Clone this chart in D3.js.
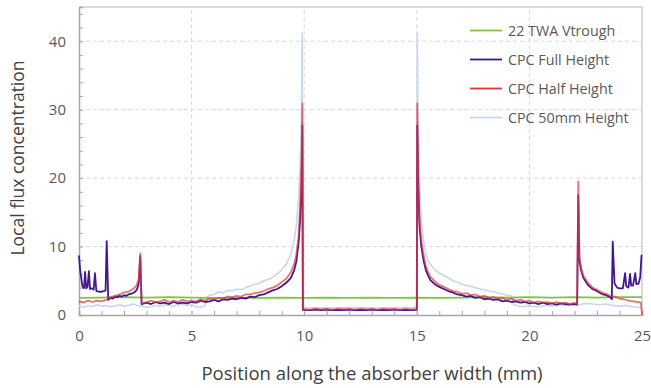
<!DOCTYPE html>
<html>
<head>
<meta charset="utf-8">
<script src="https://cdn.jsdelivr.net/npm/d3@7"></script>
<style>
  body { margin: 0; background: #fff; }
  svg { display: block; font-family: "Open Sans", sans-serif; }
</style>
</head>
<body>
<div id="chart"></div>
<script>
// [position (mm), local flux concentration]
const vtrough = [[0,2.5],[1,2.55],[2,2.6],[3,2.55],[4,2.6],[5,2.55],[6,2.5],[7,2.55],[8,2.5],[9,2.55],[10,2.5],[11,2.55],[12,2.5],[13,2.55],[14,2.5],[15,2.55],[16,2.5],[17,2.55],[18,2.6],[19,2.55],[20,2.6],[21,2.55],[22,2.6],[23,2.55],[24,2.6],[25,2.6]]

const fullHeight = [[0,8.7],[0.05,6.6],[0.15,4.2],[0.22,3.9],[0.27,6.3],[0.32,3.9],[0.38,4.1],[0.44,6.4],[0.49,3.8],[0.58,3.9],[0.65,3.7],[0.71,6.1],[0.77,3.5],[0.9,3.4],[1.0,3.4],[1.1,3.5],[1.18,3.6],[1.23,10.8],[1.3,2.2],[1.4,2.5],[1.5,2.4],[1.6,2.7],[1.7,2.6],[1.8,2.8],[1.9,2.7],[2.0,2.9],[2.1,2.8],[2.2,3.0],[2.3,3.1],[2.4,3.2],[2.5,3.4],[2.58,3.8],[2.65,4.6],[2.72,8.6],[2.78,1.6],
  [3.0,1.8],[3.2,1.6],[3.4,1.9],[3.6,1.7],[3.8,1.8],[4.0,1.6],[4.2,1.9],[4.4,1.7],[4.6,1.8],[4.8,1.7],[5.0,1.9],[5.2,1.8],[5.4,2.1],[5.6,1.9],[5.8,2.0],[6.0,2.2],[6.2,2.0],[6.4,2.3],[6.6,2.2],[6.8,2.4],[7.0,2.3],[7.2,2.5],[7.4,2.4],[7.6,2.7],[7.8,2.6],[8.0,2.9],[8.2,3.0],[8.4,3.3],[8.6,3.6],[8.8,3.8],[9.0,4.2],[9.2,4.7],[9.4,5.4],[9.55,6.5],[9.65,7.8],[9.75,10.5],[9.82,14],[9.88,19],[9.92,27.7],
  [9.94,0.75],[10.25,0.7],[10.5,0.78],[10.75,0.72],[11,0.8],[11.25,0.7],[11.5,0.76],[11.75,0.72],[12,0.78],[12.25,0.7],[12.5,0.75],[12.75,0.72],[13,0.8],[13.25,0.7],[13.5,0.76],[13.75,0.72],[14,0.78],[14.25,0.7],[14.5,0.75],[14.75,0.72],[15.0,0.76],
  [15.02,27.7],[15.06,19],[15.12,13],[15.2,10],[15.3,8],[15.4,6.6],[15.5,5.8],[15.6,5.1],[15.8,4.5],[16.0,4.1],[16.2,3.8],[16.4,3.5],[16.6,3.3],[16.8,3.0],[17.0,2.9],[17.2,2.7],[17.4,2.8],[17.6,2.5],[17.8,2.6],[18.0,2.3],[18.2,2.4],[18.4,2.2],[18.6,2.3],[18.8,2.0],[19.0,2.1],[19.2,1.9],[19.4,2.0],[19.6,1.8],[19.8,1.9],[20.0,1.7],[20.2,1.8],[20.4,1.6],[20.6,1.8],[20.8,1.6],[21.0,1.7],[21.2,1.5],[21.4,1.7],[21.6,1.6],[21.8,1.5],[22.0,1.6],[22.12,1.5],
  [22.17,17.5],[22.22,8],[22.3,6.5],[22.4,5.4],[22.6,4.4],[22.8,3.8],[23.0,3.5],[23.2,3.1],[23.4,2.9],[23.6,2.6],[23.66,2.3],[23.7,10.7],[23.78,4.6],[23.9,4.0],[24.0,3.9],[24.15,3.9],[24.25,6.1],[24.3,4.2],[24.4,4.0],[24.47,6.0],[24.52,4.3],[24.6,4.3],[24.7,6.1],[24.75,4.5],[24.85,4.6],[24.92,5.5],[24.98,8.8]]

const halfHeight = [[0,2.0],[0.2,1.8],[0.4,2.1],[0.6,1.9],[0.8,2.1],[1.0,2.0],[1.2,2.2],[1.4,2.6],[1.6,2.8],[1.8,3.0],[2.0,3.3],[2.2,3.4],[2.4,3.8],[2.55,4.3],[2.65,5.2],[2.72,9.0],[2.78,1.7],
  [3.0,1.9],[3.2,2.1],[3.4,1.8],[3.6,2.0],[3.8,2.2],[4.0,1.9],[4.2,2.1],[4.4,1.9],[4.6,2.2],[4.8,2.0],[5.0,2.1],[5.2,2.0],[5.4,2.3],[5.6,2.1],[5.8,2.4],[6.0,2.3],[6.2,2.5],[6.4,2.4],[6.6,2.7],[6.8,2.6],[7.0,2.8],[7.2,2.7],[7.4,3.0],[7.6,3.0],[7.8,3.2],[8.0,3.3],[8.2,3.5],[8.4,3.8],[8.6,4.0],[8.8,4.3],[9.0,4.8],[9.2,5.3],[9.4,6.2],[9.55,7.4],[9.65,8.8],[9.75,11.5],[9.82,16],[9.88,22],[9.92,30.9],
  [9.94,0.9],[10.25,0.8],[10.5,0.92],[10.75,0.82],[11,0.9],[11.25,0.8],[11.5,0.92],[11.75,0.84],[12,0.9],[12.25,0.8],[12.5,0.92],[12.75,0.82],[13,0.9],[13.25,0.8],[13.5,0.92],[13.75,0.84],[14,0.9],[14.25,0.8],[14.5,0.92],[14.75,0.82],[15.0,0.88],
  [15.02,30.9],[15.06,21],[15.12,14],[15.2,11],[15.3,8.8],[15.4,7.2],[15.5,6.3],[15.6,5.6],[15.8,4.9],[16.0,4.4],[16.2,4.1],[16.4,3.8],[16.6,3.5],[16.8,3.4],[17.0,3.1],[17.2,3.2],[17.4,2.9],[17.6,3.0],[17.8,2.7],[18.0,2.8],[18.2,2.5],[18.4,2.6],[18.6,2.4],[18.8,2.5],[19.0,2.2],[19.2,2.4],[19.4,2.1],[19.6,2.2],[19.8,2.0],[20.0,2.1],[20.2,1.8],[20.4,2.0],[20.6,1.8],[20.8,1.9],[21.0,1.7],[21.2,1.9],[21.4,1.7],[21.6,1.8],[21.8,1.6],[22.0,1.8],[22.12,1.6],
  [22.17,19.5],[22.22,8.5],[22.3,6.8],[22.4,5.7],[22.6,4.7],[22.8,4.0],[23.0,3.7],[23.2,3.3],[23.4,3.1],[23.6,2.8],[23.8,2.7],[24.0,2.4],[24.2,2.3],[24.4,2.1],[24.6,2.0],[24.8,1.9],[24.95,1.8],[25.0,0]]

const height50 = [[0,1.3],[0.2,1.1],[0.4,1.4],[0.6,1.2],[0.8,1.5],[1.0,1.3],[1.2,1.4],[1.4,1.2],[1.6,1.3],[1.8,1.5],[2.0,1.3],[2.2,1.4],[2.4,1.6],[2.6,1.4],[2.8,1.3],[3.0,1.1],[3.2,1.2],[3.4,1.4],[3.6,1.3],[3.8,1.5],[4.0,1.4],[4.2,1.3],[4.4,1.5],[4.6,1.6],[4.8,1.4],[5.0,1.5],[5.2,1.2],[5.4,1.1],[5.6,1.4],[5.7,2.6],[5.8,2.9],[6.0,3.0],[6.2,3.4],[6.4,3.2],[6.6,3.6],[6.8,3.5],[7.0,3.8],[7.2,3.7],[7.4,4.0],[7.6,4.2],[7.8,4.5],[8.0,4.6],[8.2,5.0],[8.4,5.2],[8.6,5.5],[8.8,6.0],[9.0,6.6],[9.2,7.4],[9.4,8.8],[9.55,10.8],[9.65,13],[9.75,17],[9.82,22],[9.88,30],[9.91,41.2],
  [9.94,1.1],[11,1.05],[12,1.1],[13,1.05],[14,1.1],[15.0,1.1],
  [15.02,41.2],[15.06,28],[15.12,19],[15.2,14],[15.3,11],[15.4,9],[15.5,8],[15.6,7.4],[15.8,6.6],[16.0,6.1],[16.2,5.8],[16.4,5.4],[16.6,5.0],[16.8,4.8],[17.0,4.5],[17.2,4.3],[17.4,4.2],[17.6,4.0],[17.8,3.8],[18.0,3.7],[18.2,3.5],[18.4,3.4],[18.6,3.2],[18.8,3.1],[19.0,2.9],[19.2,2.8],[19.3,1.5],[19.5,1.3],[19.7,1.2],[19.9,1.4],[20.1,1.3],[20.4,1.2],[20.7,1.4],[21.0,1.3],[21.3,1.5],[21.6,1.4],[21.9,1.6],[22.2,1.5],[22.5,1.7],[22.8,1.6],[23.1,1.5],[23.4,1.6],[23.7,1.4],[24.0,1.3],[24.3,1.4],[24.6,1.2],[25.0,1.1]]

const seriesNames = ["22 TWA Vtrough", "CPC Full Height", "CPC Half Height", "CPC 50mm Height"]
const xTicks = [0, 5, 10, 15, 20, 25]
const yTicks = [0, 10, 20, 30, 40]

const width = 651
const height = 388
const margin = {top: 7, right: 9, bottom: 73, left: 79}

const svg = d3.select("#chart")
  .append("svg")
    .attr("width", width)
    .attr("height", height)

const x = d3.scaleLinear().domain([0, 25]).range([margin.left, width - margin.right])
const y = d3.scaleLinear().domain([0, 45]).range([height - margin.bottom, margin.top])

// gridlines
svg.append("g")
  .selectAll("line")
  .data(yTicks.filter(d => d > 0))
  .join("line")
    .attr("x1", x(0)).attr("x2", x(25))
    .attr("y1", d => y(d)).attr("y2", d => y(d))
    .attr("stroke", "#d9d9d9").attr("stroke-dasharray", "4,3")

svg.append("g")
  .selectAll("line")
  .data(xTicks.filter(d => d > 0 && d < 25))
  .join("line")
    .attr("x1", d => x(d)).attr("x2", d => x(d))
    .attr("y1", y(0)).attr("y2", y(45))
    .attr("stroke", "#d9d9d9").attr("stroke-dasharray", "4,3")

// frame top / right
svg.append("path")
  .attr("d", `M${x(0)},${y(45)}H${x(25)}V${y(0)}`)
  .attr("fill", "none").attr("stroke", "#d0d0d0").attr("stroke-width", 1.5)

// minor ticks, pointing inwards
const yMinor = svg.append("g")
  .attr("transform", `translate(${x(0)},0)`)
  .call(d3.axisLeft(y).tickValues(d3.range(0, 46, 2)).tickSize(-4).tickFormat(""))
yMinor.selectAll("line").attr("stroke", "#a6a6a6")
yMinor.select(".domain").attr("stroke", "#a6a6a6").attr("stroke-width", 1.5)

const xMinor = svg.append("g")
  .attr("transform", `translate(0,${y(0)})`)
  .call(d3.axisBottom(x).tickValues(d3.range(0, 26, 1)).tickSize(-4).tickFormat(""))
xMinor.selectAll("line").attr("stroke", "#a6a6a6")
xMinor.select(".domain").attr("stroke", "#a6a6a6").attr("stroke-width", 1.5)

// tick labels
const yAxis = svg.append("g")
  .attr("transform", `translate(${x(0)},0)`)
  .call(d3.axisLeft(y).tickValues(yTicks).tickSize(0).tickPadding(13))
yAxis.select(".domain").remove()
yAxis.selectAll("text").attr("fill", "#595959").style("font-size", "15px").style("font-family", "Open Sans")

const xAxis = svg.append("g")
  .attr("transform", `translate(0,${y(0)})`)
  .call(d3.axisBottom(x).tickValues(xTicks).tickSize(0).tickPadding(15))
xAxis.select(".domain").remove()
xAxis.selectAll("text").attr("fill", "#595959").style("font-size", "15px").style("font-family", "Open Sans")

// axis titles
svg.append("text")
  .attr("x", 372).attr("y", 380)
  .attr("text-anchor", "middle")
  .attr("fill", "#404040")
  .style("font-size", "18.5px")
  .text("Position along the absorber width (mm)")

svg.append("text")
  .attr("transform", `translate(24,158) rotate(-90)`)
  .attr("text-anchor", "middle")
  .attr("fill", "#404040")
  .style("font-size", "17.5px")
  .text("Local flux concentration")

// lines
const line = d3.line().x(d => x(d[0])).y(d => y(d[1]))
const colors = ["#7dc63b", "#43188f", "#e0363c", "#c6d7ef"]
const datasets = [vtrough, fullHeight, halfHeight, height50]
const drawOrder = [3, 0, 1, 2]

drawOrder.forEach(i => {
  svg.append("path")
    .datum(datasets[i])
    .attr("fill", "none")
    .attr("stroke", colors[i])
    .attr("stroke-width", i === 3 ? 1.6 : 1.8)
    .attr("stroke-opacity", i === 2 ? 0.7 : 1)
    .attr("stroke-linejoin", "round")
    .attr("d", line)
})

// legend
const legend = svg.append("g")
  .selectAll("g")
  .data(seriesNames)
  .join("g")
    .attr("transform", (d, i) => `translate(470,${30.5 + i * 29})`)

legend.append("line")
  .attr("x1", 0).attr("x2", 32)
  .attr("stroke", (d, i) => colors[i])
  .attr("stroke-width", 1.8)

legend.append("text")
  .attr("x", 38).attr("dy", "0.35em")
  .attr("fill", "#595959")
  .style("font-size", "14.3px")
  .text(d => d)
</script>
</body>
</html>
